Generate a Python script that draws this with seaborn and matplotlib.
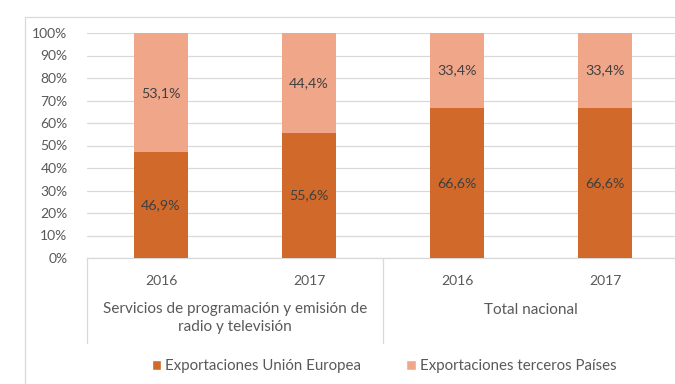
import matplotlib
matplotlib.use("Agg")
import matplotlib.pyplot as plt
import seaborn as sns
import pandas as pd
from matplotlib.patches import Patch, Rectangle

# Data
years = ["2016", "2017", "2016", "2017"]
groups = ["Servicios de programación y emisión de\nradio y televisión", "Total nacional"]
exp_ue = [46.9, 55.6, 66.6, 66.6]
exp_terceros = [53.1, 44.4, 33.4, 33.4]
series_names = ["Exportaciones Unión Europea", "Exportaciones terceros Países"]

c_dark = "#D0692A"
c_light = "#F0A789"
txt = "#404040"
tick_c = "#595959"

sns.set_theme(style="white")
plt.rcParams["font.family"] = ["Lato", "DejaVu Sans"]

fig = plt.figure(figsize=(6.75, 3.84), dpi=100)
ax = fig.add_axes([87 / 675, (384 - 258) / 384, (679 - 87) / 675, 225 / 384])

xpos = list(range(len(years)))
totals = [a + b for a, b in zip(exp_ue, exp_terceros)]
df = pd.DataFrame({"pos": xpos, "ue": exp_ue, "total": totals})

sns.barplot(data=df, x="pos", y="total", color=c_light, width=0.36,
            saturation=1, ax=ax, zorder=3, native_scale=True, linewidth=0)
sns.barplot(data=df, x="pos", y="ue", color=c_dark, width=0.36,
            saturation=1, ax=ax, zorder=4, native_scale=True, linewidth=0)

for i, (u, t) in enumerate(zip(exp_ue, exp_terceros)):
    ax.text(i, u / 2, f"{u:.1f}%".replace(".", ","), ha="center", va="center",
            fontsize=10.3, color=txt, zorder=5)
    ax.text(i, u + t / 2, f"{t:.1f}%".replace(".", ","), ha="center", va="center",
            fontsize=10.3, color=txt, zorder=5)

ax.set_xlim(-0.5, 3.5)
ax.set_ylim(0, 100)
ax.set_yticks(range(0, 101, 10))
ax.set_yticklabels([f"{v}%" for v in range(0, 101, 10)], fontsize=10, color=tick_c)
ax.yaxis.grid(True, color="#D9D9D9", linewidth=0.9, zorder=0)
ax.set_axisbelow(True)
ax.tick_params(axis="y", length=0, pad=14)
ax.set_xticks(xpos)
ax.set_xticklabels(years, fontsize=10, color=tick_c)
ax.tick_params(axis="x", length=0, pad=12)
ax.set_xlabel("")
ax.set_ylabel("")
for s in ["top", "right", "left"]:
    ax.spines[s].set_visible(False)
ax.spines["bottom"].set_color("#D9D9D9")
ax.spines["bottom"].set_linewidth(0.9)

# Group separators below the category axis
depth = -(343 - 258) / 225
for xv in [-0.5, 1.5, 3.5]:
    ax.plot([xv, xv], [0, depth * 100], color="#D9D9D9", linewidth=0.9,
            clip_on=False, transform=ax.transData)

ax.text(0.5, -(318 - 258) / 225 * 100, groups[0], ha="center", va="center",
        fontsize=11, color=tick_c, linespacing=1.3)
ax.text(2.5, -(310 - 258) / 225 * 100, groups[1], ha="center", va="center",
        fontsize=11, color=tick_c)

handles = [Patch(facecolor=c_dark), Patch(facecolor=c_light)]
fig.legend(handles, series_names, loc="center", bbox_to_anchor=(384 / 675, (384 - 366) / 384),
           ncol=2, frameon=False, fontsize=10.8, handlelength=0.65, handleheight=0.65,
           handletextpad=0.25, columnspacing=3.0, labelcolor=tick_c)

# Chart-area border
fig.patches.append(Rectangle((25 / 675, -0.1), 1.2, (384 - 17) / 384 + 0.1,
                             transform=fig.transFigure, fill=False,
                             edgecolor="#D9D9D9", linewidth=0.9))

fig.savefig("out.png", dpi=100, facecolor="white")
